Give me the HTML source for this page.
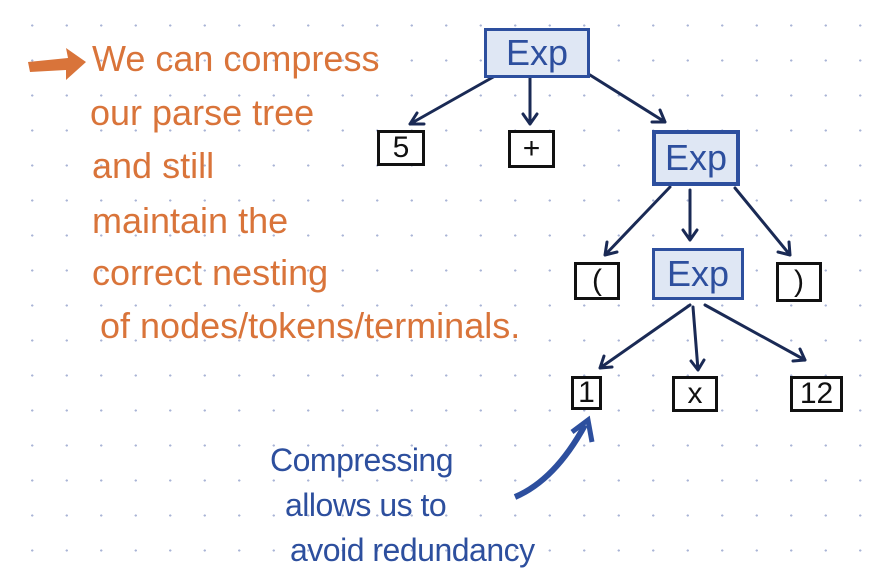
<!DOCTYPE html>
<html><head><style>
body{margin:0;width:880px;height:580px;overflow:hidden;background:#fff;
background-image:radial-gradient(circle,#a9b4d6 1px,transparent 1.3px);background-size:34.5px 35px;background-position:15px 8px;}
.o{position:absolute;color:#d9743a;font-family:"Liberation Sans Narrow","Liberation Sans",sans-serif;font-size:36px;white-space:nowrap;letter-spacing:0px}
.b{position:absolute;color:#2d4f9e;font-family:"Liberation Sans Narrow","Liberation Sans",sans-serif;font-size:32px;white-space:nowrap;letter-spacing:-0.5px}
.n{position:absolute;border:3px solid #111;box-sizing:border-box;font-family:"Liberation Sans",sans-serif;font-size:30px;color:#111;display:flex;align-items:center;justify-content:center;background:#fff}
.e{position:absolute;border:3px solid #2d4f9e;background:#dfe7f4;box-sizing:border-box;font-family:"Liberation Sans",sans-serif;font-size:36px;color:#2d4f9e;display:flex;align-items:center;justify-content:center}
</style></head><body>
<svg width="880" height="580" style="position:absolute;left:0;top:0">
<g stroke="#1a2a55" stroke-width="3" fill="none" stroke-linecap="round">
<path d="M495 76 L410 124 M410 124 l14 0 M410 124 l7 -11"/>
<path d="M530 78 L530 124 M530 124 l-7 -10 M530 124 l7 -10"/>
<path d="M590 75 L665 122 M665 122 l-5 -12 M665 122 l-13 0"/>
<path d="M670 187 L605 255 M605 255 l2 -13 M605 255 l12 -3"/>
<path d="M690 190 L690 240 M690 240 l-7 -10 M690 240 l7 -10"/>
<path d="M735 188 L790 255 M790 255 l-12 -3 M790 255 l-1 -13"/>
<path d="M690 305 L600 368 M600 368 l4 -12 M600 368 l12 -1"/>
<path d="M693 307 L698 370 M698 370 l-7 -9 M698 370 l6 -10"/>
<path d="M705 305 L805 360 M805 360 l-12 1 M805 360 l-5 -11"/>
</g>
<path d="M28 62 L68 58 L66 48 L86 62 L66 80 L66 70 L30 72 Z" fill="#d9743a"/>
<path d="M515 497 Q555 480 585 425" stroke="#2d4f9e" stroke-width="6" fill="none"/>
<path d="M572 432 L588 420 L592 442" stroke="#2d4f9e" stroke-width="5" fill="none"/>
</svg>
<div class="e" style="left:484px;top:28px;width:106px;height:50px">Exp</div>
<div class="e" style="left:652px;top:130px;width:88px;height:56px;border-width:4px">Exp</div>
<div class="e" style="left:652px;top:248px;width:92px;height:52px">Exp</div>
<div class="n" style="left:377px;top:130px;width:48px;height:36px">5</div>
<div class="n" style="left:508px;top:130px;width:47px;height:38px">+</div>
<div class="n" style="left:574px;top:262px;width:46px;height:38px">(</div>
<div class="n" style="left:776px;top:262px;width:46px;height:40px">)</div>
<div class="n" style="left:571px;top:376px;width:31px;height:34px">1</div>
<div class="n" style="left:672px;top:376px;width:46px;height:36px">x</div>
<div class="n" style="left:790px;top:376px;width:53px;height:36px">12</div>
<div class="o" style="left:92px;top:38px">We can compress</div>
<div class="o" style="left:90px;top:92px">our parse tree</div>
<div class="o" style="left:92px;top:145px">and still</div>
<div class="o" style="left:92px;top:200px">maintain the</div>
<div class="o" style="left:92px;top:252px">correct nesting</div>
<div class="o" style="left:100px;top:305px">of nodes/tokens/terminals.</div>
<div class="b" style="left:270px;top:442px">Compressing</div>
<div class="b" style="left:285px;top:487px">allows us to</div>
<div class="b" style="left:290px;top:532px">avoid redundancy</div>
</body></html>
